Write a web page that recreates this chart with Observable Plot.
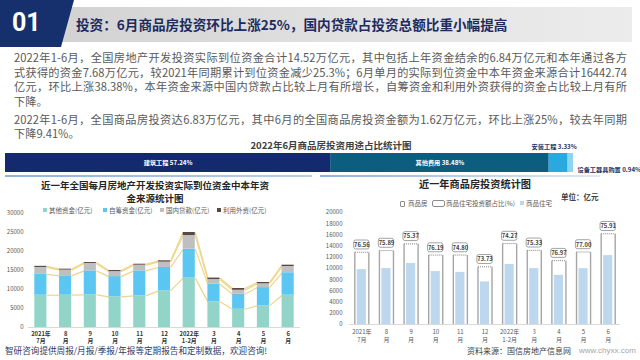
<!DOCTYPE html>
<html><head><meta charset="utf-8">
<script src="https://cdn.jsdelivr.net/npm/d3@7"></script>
<script src="https://cdn.jsdelivr.net/npm/@observablehq/plot@0.6"></script>
<style>
body{margin:0;width:640px;height:360px;overflow:hidden;background:#fff;font-family:"Noto Sans CJK SC","Noto Sans",sans-serif;position:relative}
.a{position:absolute;white-space:nowrap}
.hdr-grey{left:56px;top:7px;width:576px;height:35px;background:linear-gradient(to right,#d2d2d2,#e2e2e2 55%,#ececec);}
.hdr-navy{left:0;top:0;width:74px;height:47px;background:#15306d;clip-path:polygon(0 0,74px 0,61px 47px,0 47px);}
.hdr-num{left:12px;top:6px;font:bold 25px Roboto,"Liberation Sans",sans-serif;color:#fff;line-height:34px}
.hdr-title{left:76px;top:12px;font-size:13.6px;font-weight:bold;color:#1d2b5e;line-height:24px}
.para{left:14px;width:613px;font-size:11.2px;line-height:14.7px;color:#595959}
.para div{text-align:justify;text-align-last:justify;white-space:nowrap}
.para div.last{text-align:left;text-align-last:left}
.ttl{font-weight:bold;color:#262626;text-align:center}
.lg{font-size:6.5px;color:#595959;line-height:10px}
.sq{display:inline-block;width:4px;height:4px;margin-right:2px;vertical-align:1px}
svg{overflow:visible}
</style></head><body>
<div class="a hdr-grey"></div>
<div class="a hdr-navy"></div>
<div class="a hdr-num">01</div>
<div class="a hdr-title">投资：6月商品房投资环比上涨25%，国内贷款占投资总额比重小幅提高</div>
<div class="a para" style="top:50px">
<div>2022年1-6月，全国房地产开发投资实际到位资金合计14.52万亿元，其中包括上年资金结余的6.84万亿元和本年通过各方</div>
<div>式获得的资金7.68万亿元，较2021年同期累计到位资金减少25.3%；6月单月的实际到位资金中本年资金来源合计16442.74</div>
<div>亿元，环比上涨38.38%，本年资金来源中国内贷款占比较上月有所增长，自筹资金和利用外资获得的资金占比较上月有所</div>
<div class="last">下降。</div>
</div>
<div class="a para" style="top:111.5px">
<div>2022年1-6月，全国商品房投资达6.83万亿元，其中6月的全国商品房投资金额为1.62万亿元，环比上涨25%，较去年同期</div>
<div class="last">下降9.41%。</div>
</div>
<div class="a ttl" style="left:231px;width:200px;top:138px;font-size:9.5px;line-height:14px;color:#404040">2022年6月商品房投资用途占比统计图</div>
<div class="a" id="usage" style="left:0;top:140px"></div>

<div class="a" style="left:5px;top:175px;width:307px;height:2px;background:linear-gradient(to right,#8fb3da,#b9cfe8)"></div>
<div class="a" style="left:320px;top:175px;width:280px;height:2px;background:linear-gradient(to right,#8fb3da,#dfe9f5)"></div>

<div class="a ttl" style="left:20px;width:270px;top:179px;font-size:9.5px;line-height:13px">近一年全国每月房地产开发投资实际到位资金中本年资</div>
<div class="a ttl" style="left:20px;width:270px;top:192px;font-size:9.5px;line-height:13px">金来源统计图</div>
<div class="a lg" id="lgL" style="left:0;top:205px;width:312px;height:10px"></div>
<div class="a" id="left" style="left:0;top:210px"></div>

<div class="a ttl" style="left:395px;width:160px;top:177px;font-size:10.2px;line-height:14px">近一年商品房投资统计图</div>
<div class="a" style="left:561px;top:191px;font-size:7.5px;font-weight:bold;color:#404040;line-height:12px">单位：亿元</div>
<div class="a lg" style="left:400px;top:198px;line-height:10px">
<span class="a" style="left:0;top:3px;width:3px;height:4px;border:1px solid #8c8c8c;border-radius:1px"></span><span class="a" style="left:8px;top:0">商品房</span>
<span class="a" style="left:32px;top:2px;width:11px;height:5px;border:1px solid #8c8c8c;border-radius:2px"></span><span class="a" style="left:46px;top:0">商品住宅投资额占比(%)</span>
<span class="a" style="left:120px;top:3px;width:4px;height:4px;background:#bdd7ee"></span><span class="a" style="left:126px;top:0">商品住宅</span>
</div>
<div class="a" id="right" style="left:322px;top:208px"></div>

<div class="a" style="left:5px;top:344px;font-size:8.6px;color:#2f3b66;line-height:12px">智研咨询提供周报/月报/季报/年报等定期报告和定制数据，欢迎咨询!</div>
<div class="a" style="left:467px;top:345px;font-size:8px;color:#404040;line-height:12px">资料来源：国信房地产信息网</div>
<div class="a" style="left:579px;top:345px;font-size:8px;color:#a6a6a6;line-height:12px;font-family:'Liberation Sans',sans-serif">www.chyxx.com</div>

<script>
// ---------- data ----------
const usageCategories = ["建筑工程", "其他费用", "安装工程", "设备工器具购置"];
const usageShares = [57.24, 38.48, 3.33, 0.94];

const monthLabels = ["2021年\n7月", "8\n月", "9\n月", "10\n月", "11\n月", "12\n月", "2022年\n1-2月", "3\n月", "4\n月", "5\n月", "6\n月"];
const fundNames = ["其他资金(亿元)", "自筹资金(亿元)", "国内贷款(亿元)", "利用外资(亿元)"];
const otherFunds = [8500, 8500, 8600, 8070, 8330, 9650, 13000, 6750, 4800, 5700, 8500];
const selfFunds = [5500, 5100, 6300, 5330, 6570, 6150, 7600, 4650, 3970, 4800, 5900];
const domesticLoans = [1800, 1500, 1950, 1300, 1500, 1400, 3600, 1230, 1030, 1000, 1650];
const foreignCapital = [300, 250, 250, 300, 250, 350, 800, 370, 460, 340, 350];
const leftTicks = [0, 5000, 10000, 15000, 20000, 25000, 30000];

const commercialHousing = [12900, 13200, 14400, 12400, 12400, 10300, 14450, 13250, 11400, 12950, 16200];
const residential = [9800, 10000, 10900, 9450, 9300, 7600, 10730, 9980, 8780, 9970, 12300];
const residentialShare = [76.56, 75.89, 75.37, 76.19, 74.80, 73.73, 74.27, 75.33, 76.97, 77.00, 75.91];
const rightTicks = [0, 2000, 4000, 6000, 8000, 10000, 12000, 14000, 16000, 18000, 20000];

// ---------- usage bar ----------
const usageColors = ["#142a6e", "#0c5d80", "#2aa9e0", "#8bd4f2"];
let accU = 0;
const usage = usageCategories.map((c, i) => { const s = accU; accU += usageShares[i]; return {cat: c, v: usageShares[i], start: s, end: accU, i}; });
document.getElementById("usage").append(Plot.plot({
  width: 640, height: 36, marginLeft: 5, marginRight: 67, marginTop: 13, marginBottom: 4,
  x: {domain: [0, 100], axis: null}, y: {axis: null},
  color: {domain: usageCategories, range: usageColors},
  style: {fontFamily: "'Noto Sans CJK SC',sans-serif", background: "transparent"},
  marks: [
    Plot.barX(usage, {x1: "start", x2: "end", fill: "cat"}),
    Plot.text(usage.filter(d => d.i < 2), {x: d => (d.start + d.end) / 2, text: d => `${d.cat} ${d.v.toFixed(2)}%`, fill: "white", fontSize: 6.2, fontWeight: "bold", frameAnchor: "middle"}),
    Plot.text(usage.filter(d => d.i === 2), {x: d => (d.start + d.end) / 2 - 0.8, text: d => `${d.cat} ${d.v.toFixed(2)}%`, fill: "#1f3160", fontSize: 6.2, fontWeight: "bold", frameAnchor: "top", dy: -9}),
    Plot.text(usage.filter(d => d.i === 3), {x: "end", text: d => `${d.cat} ${d.v.toFixed(2)}%`, fill: "#1f3160", fontSize: 6.2, fontWeight: "bold", textAnchor: "start", dx: 4, frameAnchor: "bottom", dy: -1})
  ]
}));

// ---------- left legend ----------
const fundColors = ["#93d4c9", "#5cc6f2", "#bfbfbf", "#5a4842"];
const lgPos = [43, 103, 160, 217];
document.getElementById("lgL").innerHTML = fundNames.map((n, k) =>
  `<span class="a" style="left:${lgPos[k]}px;top:0"><span class="sq" style="background:${fundColors[k]}"></span>${n}</span>`).join("");

// ---------- left chart ----------
const fundSeries = [otherFunds, selfFunds, domesticLoans, foreignCapital];
const stacked = [];
const tops = fundNames.map(() => []);
monthLabels.forEach((m, i) => {
  let acc = 0;
  fundSeries.forEach((arr, s) => { const y1 = acc; acc += arr[i]; stacked.push({i, s: fundNames[s], y1, y2: acc}); tops[s].push(acc); });
});
const seriesLinks = [];
tops.forEach(t => { for (let i = 0; i < t.length - 1; i++) seriesLinks.push({x1: i + 0.245, x2: i + 1 - 0.245, y1: t[i], y2: t[i + 1]}); });
const idx = d3.range(monthLabels.length);
document.getElementById("left").append(Plot.plot({
  width: 312, height: 136, marginLeft: 28, marginRight: 12, marginTop: 3, marginBottom: 19,
  x: {domain: [-0.5, 10.5]}, y: {domain: [0, 30000]},
  color: {domain: fundNames, range: fundColors},
  style: {fontFamily: "'Noto Sans CJK SC',sans-serif", fontSize: "6px", color: "#595959", background: "transparent"},
  marks: [
    Plot.ruleY([0], {stroke: "#d9d9d9"}),
    Plot.link(seriesLinks, {x1: "x1", x2: "x2", y1: "y1", y2: "y2", stroke: "#f1d48a", strokeWidth: 1.2}),
    Plot.rect(stacked, {x1: d => d.i - 0.245, x2: d => d.i + 0.245, y1: "y1", y2: "y2", fill: "s"}),
    Plot.axisY({ticks: leftTicks, tickSize: 0, tickPadding: 5, tickFormat: d => String(d), label: null, fontSize: 6}),
    Plot.axisX({ticks: idx, tickSize: 0, tickPadding: 3, tickFormat: i => monthLabels[i], label: null, fontSize: 5.8, fontWeight: "bold", fill: "#333", lineHeight: 1.3})
  ]
}));

// ---------- right chart ----------
const rows = idx.map(i => ({i, total: commercialHousing[i], res: residential[i], pct: residentialShare[i]}));
const sides = [];
rows.forEach(r => { sides.push({x: r.i - 0.285, y: r.total}); sides.push({x: r.i + 0.285, y: r.total}); });
document.getElementById("right").append(Plot.plot({
  width: 318, height: 138, marginLeft: 27, marginRight: 20, marginTop: 4, marginBottom: 22,
  x: {domain: [-0.5, 10.5]}, y: {domain: [0, 20000]},
  style: {fontFamily: "'Noto Sans CJK SC',sans-serif", fontSize: "6.5px", color: "#595959", background: "transparent"},
  marks: [
    Plot.rect(rows, {x1: d => d.i - 0.285, x2: d => d.i + 0.285, y1: 0, y2: "total", fill: "white"}),
    Plot.rect(rows, {x1: d => d.i - 0.185, x2: d => d.i + 0.185, y1: 0, y2: "res", fill: "#bdd7ee"}),
    Plot.link(sides, {x1: "x", x2: "x", y1: 0, y2: "y", stroke: "#a6a6a6", strokeWidth: 1.4}),
    Plot.link(rows, {x1: d => d.i - 0.285, x2: d => d.i + 0.285, y1: "total", y2: "total", stroke: "#808080", strokeWidth: 1, strokeDasharray: "1,1"}),
    Plot.ruleY([0], {stroke: "#d9d9d9"}),
    Plot.rect(rows, {x1: d => d.i - 0.31, x2: d => d.i + 0.31, y1: d => d.total + 500, y2: d => d.total + 2100, fill: "white", stroke: "#8c8c8c", strokeWidth: 0.8, rx: 2}),
    Plot.text(rows, {x: "i", y: d => d.total + 1300, text: d => d.pct.toFixed(2), fontSize: 5.8, fontWeight: "bold", fill: "#404040"}),
    Plot.axisY({ticks: rightTicks, tickSize: 0, tickPadding: 7, tickFormat: d => String(d), label: null, fontSize: 6}),
    Plot.axisX({ticks: idx, tickSize: 0, tickPadding: 4, tickFormat: i => monthLabels[i], label: null, fontSize: 6, lineHeight: 1.3})
  ]
}));
</script>
</body></html>
